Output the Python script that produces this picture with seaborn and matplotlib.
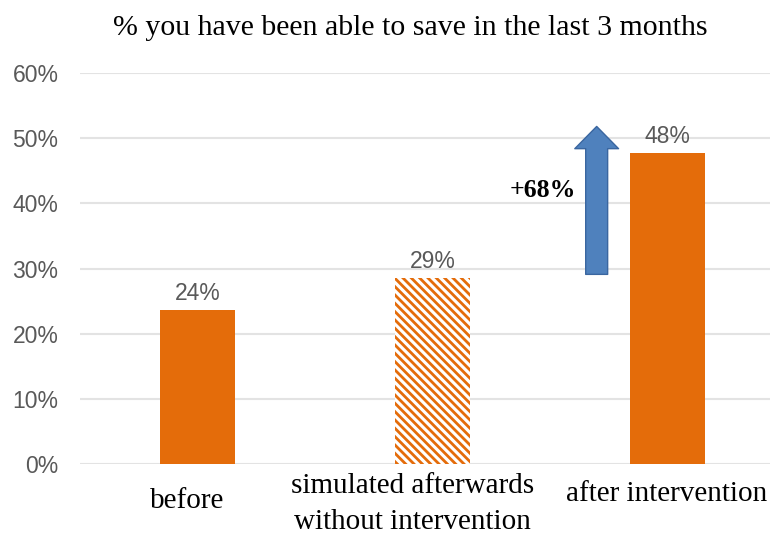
import matplotlib
matplotlib.use("Agg")
import matplotlib.pyplot as plt
import seaborn as sns
import pandas as pd
from matplotlib.patches import FancyArrowPatch
from matplotlib.transforms import ScaledTranslation

# ---- data ----
categories = ["before", "simulated afterwards\nwithout intervention", "after intervention"]
values = [23.7, 28.6, 47.8]
value_labels = ["24%", "29%", "48%"]
y_ticks = [0, 10, 20, 30, 40, 50, 60]
y_tick_labels = ["0%", "10%", "20%", "30%", "40%", "50%", "60%"]
arrow_start = 29.1
arrow_end = 51.8
arrow_label = "+68%"
title = "% you have been able to save in the last 3 months"

ORANGE = "#E46C0A"
BLUE = "#4F81BD"
GRID = "#E3E3E3"
GRAY = "#595959"

sns.set_theme(style="white")
plt.rcParams["hatch.linewidth"] = 2.0

df = pd.DataFrame({"cat": categories, "val": values})

fig = plt.figure(figsize=(7.75, 5.4), dpi=100)
ax = fig.add_axes([80 / 775, 76 / 540, 690 / 775, 391 / 540])

sns.barplot(data=df, x="cat", y="val", ax=ax, color=ORANGE, width=0.32,
            saturation=1, linewidth=0, zorder=3)

# hatched middle bar
p = ax.patches[1]
p.set_facecolor("white")
p.set_edgecolor(ORANGE)
p.set_hatch("\\\\\\\\")
p.set_linewidth(0)

ax.set_xlim(-0.503, 2.439)
ax.set_ylim(0, 60)
ax.set_yticks(y_ticks)
ax.set_yticklabels(y_tick_labels, fontsize=16.5, color=GRAY, family="Liberation Sans")
ax.yaxis.grid(True, color=GRID, linewidth=1.5, zorder=0)
ax.set_axisbelow(True)
ax.tick_params(axis="y", length=0, pad=15.5)
ax.tick_params(axis="x", length=0, pad=11)
ax.set_xticks(range(len(categories)))
ax.set_xticklabels(categories, fontsize=21, family="Liberation Serif", color="black",
                   linespacing=1.5)
ax.set_xlabel("")
ax.set_ylabel("")
for s in ax.spines.values():
    s.set_visible(False)

# nudge category labels like the reference layout (inches)
offsets = [(-0.11, -0.09), (-0.20, 0.06), (0.0, -0.02)]
for lab, (dx, dy) in zip(ax.get_xticklabels(), offsets):
    lab.set_transform(lab.get_transform() + ScaledTranslation(dx, dy, fig.dpi_scale_trans))

# value labels
for i, (v, lab) in enumerate(zip(values, value_labels)):
    ax.annotate(lab, (i, v), xytext=(0, 3), textcoords="offset points",
                ha="center", va="bottom", fontsize=16.5, color=GRAY,
                family="Liberation Sans")

# arrow
ax_x = 1.70
arr = FancyArrowPatch((ax_x, arrow_start), (ax_x, arrow_end),
                      arrowstyle="simple,head_length=16,head_width=31.5,tail_width=15.8",
                      mutation_scale=1, shrinkA=0, shrinkB=0,
                      facecolor=BLUE, edgecolor="#3A66A0", linewidth=1, zorder=4)
ax.add_patch(arr)
ax.text(1.612, 42, arrow_label, ha="right", va="center", fontsize=18.5,
        fontweight="bold", family="Liberation Serif", color="black")

fig.text(410 / 775, 1 - 28 / 540, title, ha="center", va="center",
         fontsize=21.5, family="Liberation Serif", color="black")

fig.savefig("out.png", dpi=100, facecolor="white")
